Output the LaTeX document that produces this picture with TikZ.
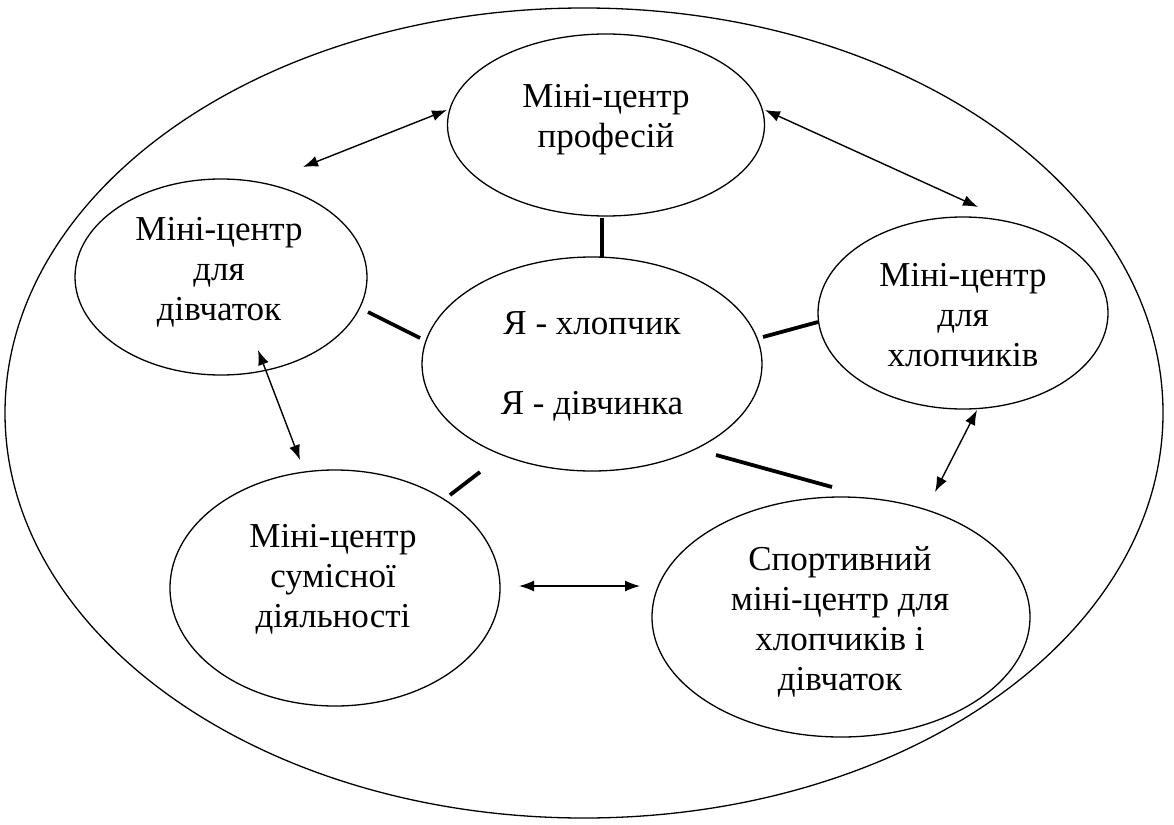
\documentclass[tikz,border=0pt]{standalone}
\usepackage{fontspec}
\setmainfont{Liberation Serif}
\usetikzlibrary{shapes.geometric,arrows.meta}
\begin{document}
\begin{tikzpicture}[x=1pt,y=-1pt,
  ell/.style={draw,ellipse,line width=1.3pt,inner sep=0pt},
  lbl/.style={align=center,font=\fontsize{35}{40}\selectfont},
  link/.style={line width=3.8pt},
  biarrow/.style={line width=1.4pt,{Latex[length=15pt,width=11pt]}-{Latex[length=15pt,width=11pt]}}]
\useasboundingbox (0,0) rectangle (1174,824);
\node[ell,minimum width=1158pt,minimum height=810pt] (outer) at (584,413) {};
\node[ell,minimum width=317pt,minimum height=182pt] (prof) at (606,125) {};
\node[ell,minimum width=292pt,minimum height=196pt] (girls) at (221,277) {};
\node[ell,minimum width=340pt,minimum height=214pt] (me) at (592,364) {};
\node[ell,minimum width=290pt,minimum height=192pt] (boys) at (963,313) {};
\node[ell,minimum width=330pt,minimum height=236pt] (joint) at (335,588) {};
\node[ell,minimum width=378pt,minimum height=240pt] (sport) at (841,617) {};
\node[lbl] (tprof) at (606,120) {Міні-центр\\професій};
\node[lbl] (tgirls) at (219,272) {Міні-центр\\для\\дівчаток};
\node[lbl,font=\fontsize{35}{80}\selectfont] (tme) at (592,366) {Я - хлопчик\\Я - дівчинка};
\node[lbl] (tboys) at (963,315) {Міні-центр\\для\\хлопчиків};
\node[lbl] (tjoint) at (333,579) {Міні-центр\\сумісної\\діяльності};
\node[lbl] (tsport) at (840,622) {Спортивний\\міні-центр для\\хлопчиків і\\дівчаток};
% thick links
\coordinate (l1a) at (602,218); \coordinate (l1b) at (602,257);
\coordinate (l2a) at (368,312); \coordinate (l2b) at (420,338);
\coordinate (l3a) at (763,337); \coordinate (l3b) at (818,322);
\coordinate (l4a) at (450,495); \coordinate (l4b) at (480,472);
\coordinate (l5a) at (716,455); \coordinate (l5b) at (832,487);
\draw[link] (l1a) -- (l1b);
\draw[link] (l2a) -- (l2b);
\draw[link] (l3a) -- (l3b);
\draw[link] (l4a) -- (l4b);
\draw[link] (l5a) -- (l5b);
% arrows
\coordinate (a1a) at (303,167); \coordinate (a1b) at (447,110);
\coordinate (a2a) at (765,110); \coordinate (a2b) at (978,207);
\coordinate (a3a) at (258,350); \coordinate (a3b) at (300,460);
\coordinate (a4a) at (519,586); \coordinate (a4b) at (640,586);
\coordinate (a5a) at (935,492); \coordinate (a5b) at (977,410);
\draw[biarrow] (a1a) -- (a1b);
\draw[biarrow] (a2a) -- (a2b);
\draw[biarrow] (a3a) -- (a3b);
\draw[biarrow] (a4a) -- (a4b);
\draw[biarrow] (a5a) -- (a5b);
\end{tikzpicture}
\end{document}
